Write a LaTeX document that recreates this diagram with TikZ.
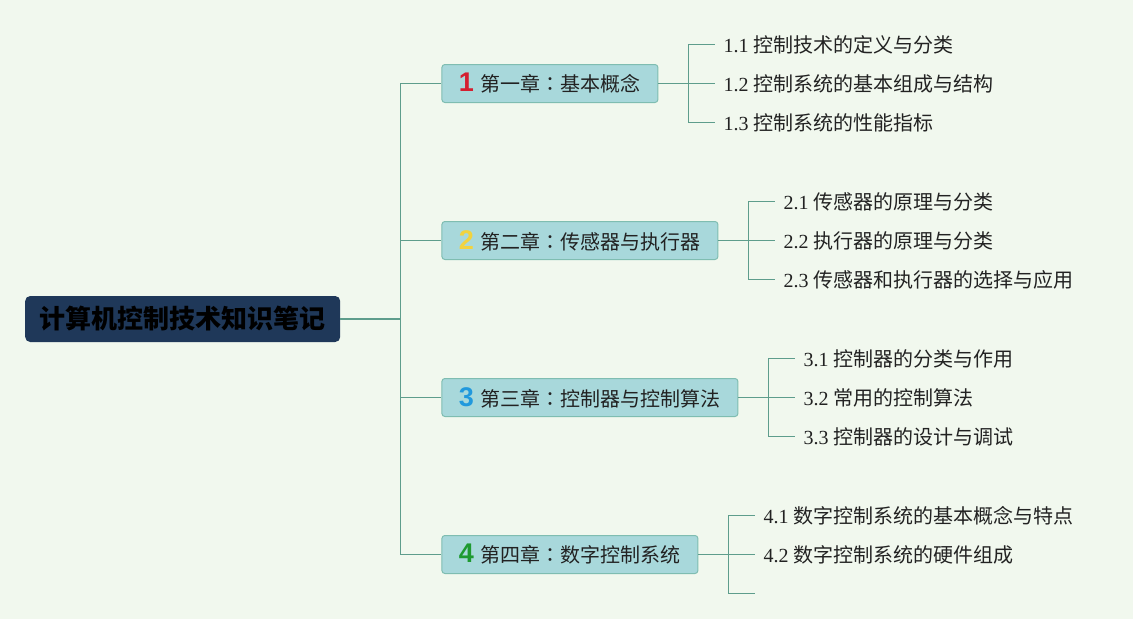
\documentclass[tikz,border=0pt]{standalone}
\usepackage{fontspec}
\setmainfont{Liberation Serif}
\newfontfamily\cjk{Noto Sans CJK SC}
\newfontfamily\cjkpunct{Noto Sans CJK TC}
\newfontfamily\numfont{Liberation Sans}
\usetikzlibrary{trees}
\definecolor{bgcol}{HTML}{F1F8EE}
\definecolor{rootblue}{HTML}{1F3859}
\definecolor{chapfill}{HTML}{A8D8DB}
\definecolor{chapline}{HTML}{7FBDB1}
\definecolor{linecol}{HTML}{5E9D8C}
\definecolor{textgray}{HTML}{222222}
\definecolor{numred}{HTML}{D41F30}
\definecolor{numyellow}{HTML}{F2D33E}
\definecolor{numblue}{HTML}{2199DD}
\definecolor{numgreen}{HTML}{1E9A30}
\tikzset{
    root/.style={rectangle, rounded corners=5pt, fill=rootblue, text=black, minimum width=315pt, minimum height=46pt, font=\cjk\bfseries\fontsize{26}{28}\selectfont},
    chapter/.style={rectangle, rounded corners=3pt, draw=chapline, fill=chapfill, line width=1pt, minimum height=38pt, inner xsep=17pt, text=textgray, font=\cjk\fontsize{20}{22}\selectfont},
    leaf/.style={inner sep=0pt, text=textgray, font=\fontsize{20}{22}\selectfont}
}
\newcommand\chnum[2]{{\numfont\bfseries\fontsize{27}{27}\selectfont\color{#1}#2}\hspace{7pt}}
\newcommand\colonmark{{\cjkpunct ：}}
\newcommand\sect[2]{#1 {\cjk #2}}

\begin{document}
\begin{tikzpicture}
  [
    x                       = 1pt,
    y                       = 1pt,
    grow'                   = right,
    growth parent anchor    = east,
    every child node/.style = {anchor=west},
    edge from parent/.style = {draw=linecol, line width=1.3pt},
    level 1/.style          = {sibling distance=157pt, level distance=101pt,
        edge from parent path={(\tikzparentnode.east) -- ++(60pt,0) |- (\tikzchildnode.west)}},
    level 2/.style          = {sibling distance=39pt, level distance=65pt,
        edge from parent path={(\tikzparentnode.east) -- ++(30pt,0) |- ([xshift=-8pt]\tikzchildnode.west)}},
  ]
  \useasboundingbox (0,0) rectangle (1133,-619);
  \fill [bgcol] (0,0) rectangle (1133,-619);
  \node [root, anchor=west] (notes) at (25,-319) {计算机控制技术知识笔记}
    child { node [chapter] (ch1) {\chnum{numred}{1}第一章\colonmark 基本概念}
        child { node [leaf] (s11) {\sect{1.1}{控制技术的定义与分类}}}
        child { node [leaf] (s12) {\sect{1.2}{控制系统的基本组成与结构}}}
        child { node [leaf] (s13) {\sect{1.3}{控制系统的性能指标}}}}
    child { node [chapter] (ch2) {\chnum{numyellow}{2}第二章\colonmark 传感器与执行器}
        child { node [leaf] (s21) {\sect{2.1}{传感器的原理与分类}}}
        child { node [leaf] (s22) {\sect{2.2}{执行器的原理与分类}}}
        child { node [leaf] (s23) {\sect{2.3}{传感器和执行器的选择与应用}}}}
    child { node [chapter] (ch3) {\chnum{numblue}{3}第三章\colonmark 控制器与控制算法}
        child { node [leaf] (s31) {\sect{3.1}{控制器的分类与作用}}}
        child { node [leaf] (s32) {\sect{3.2}{常用的控制算法}}}
        child { node [leaf] (s33) {\sect{3.3}{控制器的设计与调试}}}}
    child { node [chapter] (ch4) {\chnum{numgreen}{4}第四章\colonmark 数字控制系统}
        child { node [leaf] (s41) {\sect{4.1}{数字控制系统的基本概念与特点}}}
        child { node [leaf] (s42) {\sect{4.2}{数字控制系统的硬件组成}}}
        child [edge from parent path={(\tikzparentnode.east) -- ++(30pt,0) |- ([xshift=-8pt]\tikzchildnode)}]
            { coordinate (s43)}}
    ;
\end{tikzpicture}
\end{document}
